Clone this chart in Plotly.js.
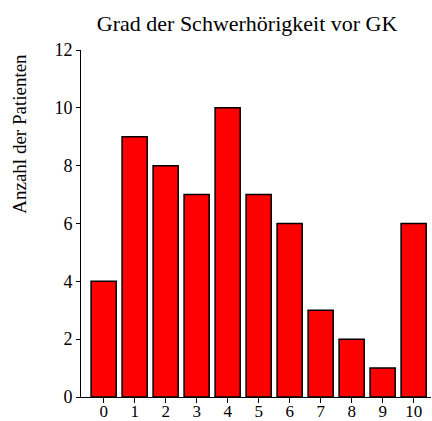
<!DOCTYPE html>
<html><head><meta charset="utf-8">
<script src="https://cdn.plot.ly/plotly-3.0.1.min.js"></script>
<style>html,body{margin:0;padding:0;background:#fff}#chart{width:432px;height:421px}</style>
</head><body><div id="chart"></div>
<script>
const categories = [0,1,2,3,4,5,6,7,8,9,10];
const counts = [4,9,8,7,10,7,6,3,2,1,6];
const titleText = "Grad der Schwerhörigkeit vor GK";
const yTitleText = "Anzahl der Patienten";
const yTicks = [0,2,4,6,8,10,12];

const font = "'Liberation Serif', 'Times New Roman', serif";
Plotly.newPlot('chart', [{
  type: 'bar', x: categories, y: counts, width: 0.81,
  marker: {color: '#ff0000', line: {color: '#000', width: 1.5}},
  hoverinfo: 'none'
}], {
  width: 432, height: 421,
  margin: {l: 81, r: 1, t: 50, b: 24},
  paper_bgcolor: '#fff', plot_bgcolor: '#fff',
  font: {family: font, size: 18, color: '#000'},
  showlegend: false,
  title: {text: titleText, font: {family: font, size: 22, color: '#000'},
          xref: 'container', yref: 'container', x: 0.572, y: 0.944,
          xanchor: 'center', yanchor: 'middle'},
  xaxis: {range: [-0.73, 10.56], tickvals: categories, ticktext: categories.map(String),
          showgrid: false, zeroline: false, showline: true, linecolor: '#000', linewidth: 1,
          ticks: 'outside', ticklen: 5, tickcolor: '#000', ticklabelstandoff: -6,
          tickfont: {family: font, size: 17, color: '#000'}, fixedrange: true},
  yaxis: {range: [0, 12], tickvals: yTicks, showgrid: false, zeroline: false,
          showline: true, linecolor: '#000', linewidth: 1,
          ticks: 'outside', ticklen: 4, tickcolor: '#000',
          tickfont: {family: font, size: 18, color: '#000'}, fixedrange: true},
  annotations: [{text: yTitleText, textangle: -90, xref: 'paper', yref: 'paper',
                 x: -0.175, y: 0.758, xanchor: 'center', yanchor: 'middle', showarrow: false,
                 font: {family: font, size: 19, color: '#000'}}]
}, {staticPlot: true});
</script></body></html>
